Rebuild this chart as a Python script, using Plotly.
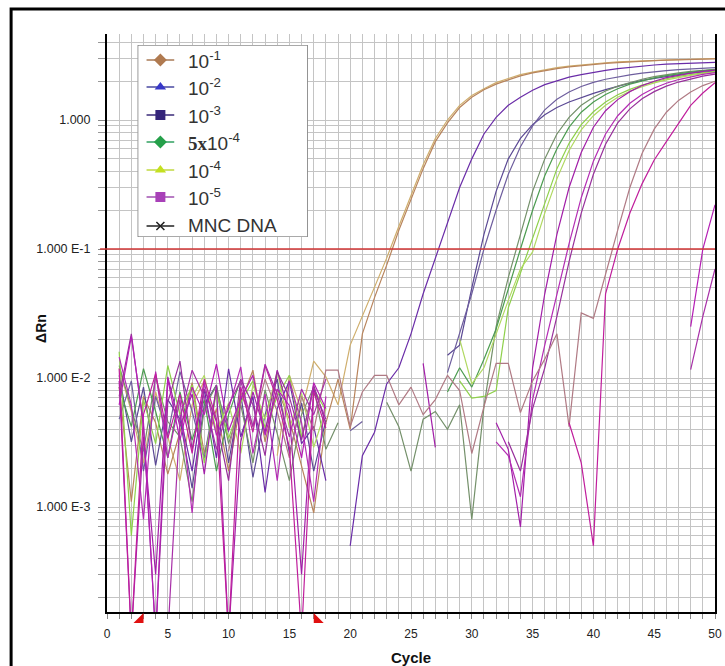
import plotly.graph_objects as go

# ---------------- data ----------------
cycles = list(range(1, 51))

tan_a = [0.012, 0.0055, 0.0022, 0.0078, 0.0035, 0.0016, 0.0062, 0.0095, None, None,
         None, None, None, 0.0025, 0.0105, 0.0055, 0.0135, 0.0102, 0.0062, 0.018,
         0.030, 0.050, 0.085, 0.15, 0.26, 0.45, 0.72, 1.00, 1.30, 1.55,
         1.75, 1.95, 2.10, 2.25, 2.35, 2.45, 2.55, 2.62, 2.68, 2.73,
         2.78, 2.82, 2.85, 2.88, 2.90, 2.92, 2.94, 2.96, 2.98, 3.00]
tan_b = [0.0085, 0.0011, 0.0072, 0.0045, 0.0018, 0.0038, 0.0092, 0.0026, 0.0058, 0.0019,
         0.0065, 0.0115, 0.0032, 0.0082, 0.0048, 0.0021, 0.0009, 0.0045, 0.0098, 0.004,
         0.022, 0.042, 0.075, 0.14, 0.24, 0.42, 0.68, 0.95, 1.25, 1.50,
         1.72, 1.90, 2.05, 2.20, 2.32, 2.42, 2.50, 2.58, 2.64, 2.70,
         2.75, 2.79, 2.83, 2.86, 2.89, 2.91, 2.93, 2.95, 2.97, 2.98]
purple_c = [None, None, None, None, None, 0.0052, 0.0019, 0.0082, 0.0024, 0.0118,
            0.0035, 0.0072, 0.0013, 0.0058, 0.0095, 0.0031, 0.0042, 0.0016, None, 0.0005,
            0.0025, 0.0038, 0.009, 0.012, 0.022, 0.045, 0.085, 0.16, 0.30, 0.50,
            0.78, 1.05, 1.30, 1.50, 1.70, 1.88, 2.02, 2.15, 2.25, 2.35,
            2.43, 2.50, 2.56, 2.62, 2.67, 2.71, 2.74, 2.77, 2.79, 2.80]
slate_d = [0.0105, 0.0032, 0.0085, 0.0021, 0.0068, 0.0048, 0.0014, 0.0062, 0.0088, 0.0022,
           0.0075, 0.0017, 0.0052, 0.0098, 0.0026, 0.0064, 0.0019, 0.0047, None, None,
           None, None, None, None, None, None, None, 0.015, 0.018, 0.050,
           0.13, 0.28, 0.50, 0.72, 0.92, 1.10, 1.25, 1.38, 1.50, 1.61,
           1.72, 1.83, 1.93, 2.03, 2.11, 2.18, 2.25, 2.31, 2.36, 2.40]
slate_e = [0.0048, 0.0095, 0.0019, 0.0072, 0.0036, 0.0112, 0.0055, 0.0024, 0.0082, 0.0038,
           None, None, None, None, None, None, None, None, None, 0.0039,
           0.0046, None, None, None, None, None, None, 0.011, 0.022, 0.045,
           0.10, 0.20, 0.38, 0.62, 0.90, 1.20, 1.45, 1.65, 1.82, 1.96,
           2.07, 2.16, 2.24, 2.31, 2.37, 2.42, 2.46, 2.50, 2.53, 2.55]
grey_f = [0.0125, 0.0058, 0.0027, 0.0102, 0.0046, 0.0035, 0.0011, 0.0058, 0.0088, 0.0031,
          0.0062, 0.0022, 0.0081, 0.0037, 0.0016, 0.0052, 0.0085, 0.0028, 0.0045, None,
          None, None, 0.0065, 0.0042, 0.0019, 0.0048, 0.0055, 0.004, 0.0062, 0.0008,
          0.006, 0.025, 0.06, 0.13, 0.28, 0.50, 0.78, 1.05, 1.30, 1.50,
          1.68, 1.83, 1.96, 2.07, 2.17, 2.25, 2.32, 2.38, 2.43, 2.47]
green_g = [0.0085, 0.0042, 0.0118, 0.0055, 0.0024, 0.0078, 0.0033, 0.0068, 0.0019, 0.0052,
           0.0098, None, None, None, None, None, None, None, None, None,
           None, None, None, None, None, None, None, 0.0078, 0.012, 0.0085,
           0.014, 0.024, 0.05, 0.10, 0.20, 0.37, 0.60, 0.88, 1.15, 1.38,
           1.58, 1.75, 1.90, 2.02, 2.12, 2.21, 2.29, 2.35, 2.41, 2.46]
lime_h = [0.016, 0.0006, 0.0068, 0.0031, 0.0125, 0.0052, 0.0088, 0.0022, 0.0078, 0.0034,
          0.0065, 0.0095, 0.0041, 0.0072, 0.0105, 0.0035, 0.0082, 0.0056, None, None,
          None, None, None, None, None, None, None, None, 0.0095, 0.007,
          0.0072, 0.008, 0.035, 0.065, 0.12, 0.23, 0.42, 0.66, 0.92, 1.16,
          1.38, 1.57, 1.73, 1.87, 1.99, 2.09, 2.18, 2.26, 2.32, 2.38]
lime_i = [None, None, None, None, None, None, 0.0071, 0.0105, 0.0038, 0.0064,
          0.0026, 0.0088, 0.0048, 0.0112, 0.0041, 0.0076, 0.0029, 0.0058, None, None,
          None, None, None, None, None, None, None, None, 0.020, 0.009,
          0.012, 0.022, 0.040, 0.070, 0.095, 0.19, 0.35, 0.58, 0.84, 1.08,
          1.30, 1.50, 1.67, 1.81, 1.94, 2.05, 2.14, 2.22, 2.29, 2.35]
mag_j = [0.0095, 0.0001, 0.0035, 0.0003, 0.0102, 0.0042, 0.0075, 0.0018, 0.0088, 0.0001,
         0.0032, 0.0078, 0.0038, 0.0115, 0.0052, 0.0003, 0.0082, 0.0048, None, None,
         None, None, None, None, None, 0.013, 0.0029, None, None, None,
         None, 0.0045, 0.0028, 0.0007, 0.012, 0.045, 0.13, 0.30, 0.56, 0.88,
         1.18, 1.44, 1.66, 1.85, 2.00, 2.13, 2.23, 2.31, 2.38, 2.44]
mag_k = [0.0145, 0.0062, 0.0008, 0.0112, 0.0024, 0.0068, 0.0009, 0.0092, 0.0036, 0.0058,
         0.0122, 0.0026, 0.0075, 0.0016, 0.0095, 0.0045, 0.0011, 0.0072, None, None,
         None, None, None, None, None, None, None, None, None, None,
         None, 0.0032, 0.0025, 0.0012, 0.0068, 0.018, 0.045, 0.11, 0.25, 0.48,
         0.78, 1.08, 1.35, 1.58, 1.77, 1.93, 2.06, 2.17, 2.26, 2.33]
mag_l = [0.0072, 0.022, 0.0042, 0.0001, 0.0065, 0.0135, 0.0028, 0.0082, 0.0046, 0.0016,
         0.0098, 0.0062, 0.0025, 0.0112, 0.0071, 0.0033, 0.0088, 0.0044, None, None,
         None, None, None, None, None, None, None, None, None, None,
         None, None, 0.0032, 0.0019, 0.0058, 0.012, 0.030, 0.080, 0.19, 0.38,
         0.65, 0.95, 1.22, 1.46, 1.66, 1.83, 1.97, 2.09, 2.19, 2.27]
mauve_m = [None, None, None, None, None, None, None, None, None, 0.0027,
           0.0078, 0.0042, 0.0098, 0.0055, 0.0024, 0.0072, 0.0039, 0.0115, 0.0115, 0.0042,
           0.0078, 0.0105, 0.0105, 0.0062, 0.0085, 0.0052, 0.0068, 0.0105, 0.008, 0.0026,
           0.006, 0.013, 0.013, 0.0054, 0.0095, 0.014, 0.022, 0.0042, 0.032, 0.029,
           0.065, 0.14, 0.30, 0.55, 0.85, 1.15, 1.42, 1.65, 1.85, 2.00]
mag_n = [0.0118, 0.0001, 0.0052, 0.0108, 0.0034, 0.0075, 0.0026, 0.0098, 0.0048, 0.0001,
         0.0085, 0.0038, 0.0125, 0.0068, 0.0029, 0.0001, 0.0078, 0.0041, None, None,
         None, None, None, None, None, None, None, None, None, None,
         None, None, None, None, None, None, None, 0.0045, 0.0022, 0.0005,
         0.045, 0.10, 0.19, 0.32, 0.49, 0.68, 0.95, 1.30, 1.62, 1.95]
mag_o = [0.0062, 0.021, 0.0045, 0.0001, 0.0098, 0.0033, 0.0085, 0.0052, 0.0128, 0.0039,
         0.0069, 0.0105, 0.0036, 0.0082, 0.0061, 0.0024, 0.0092, 0.0058, None, None,
         None, None, None, None, None, None, None, None, None, None,
         None, None, None, None, None, None, None, None, None, None,
         None, None, None, None, None, None, None, 0.025, 0.10, 0.22]
mag_p = [None, None, None, None, 0.0001, 0.0048, 0.0115, 0.0072, 0.0028, 0.0062,
         0.0095, 0.0042, 0.0128, 0.0075, 0.0035, 0.0082, 0.0052, 0.0098, None, None,
         None, None, None, None, None, None, None, None, None, None,
         None, None, None, None, None, None, None, None, None, None,
         None, None, None, None, None, None, None, 0.0116, 0.030, 0.070]

curves = [tan_a, tan_b, purple_c, slate_d, slate_e, grey_f, green_g, lime_h, lime_i,
          mag_j, mag_k, mag_l, mauve_m, mag_n, mag_o, mag_p]

threshold = 0.1
baseline_cycles = [3, 17]

x_tick_values = list(range(0, 51, 5))
y_tick_values = [0.001, 0.01, 0.1, 1.0]
y_tick_labels = ["1.000 E-3", "1.000 E-2", "1.000 E-1", "1.000"]

legend_labels = [
    "10<sup>-1</sup>",
    "10<sup>-2</sup>",
    "10<sup>-3</sup>",
    "<span style=\"font-family:'Liberation Serif',serif;font-weight:bold\">5x</span>10<sup>-4</sup>",
    "10<sup>-4</sup>",
    "10<sup>-5</sup>",
    "MNC DNA",
]

# ---------------- styles ----------------
curve_colors = ["#cfae6c", "#b8845c", "#6a2ca8", "#5a4894", "#6e5e9e", "#74906a",
                "#4c9c50", "#8ed04a", "#b0d860", "#a21ea8", "#b42cb4", "#98309c",
                "#b07a84", "#c01e9c", "#b41eb4", "#a830a8"]
legend_line_colors = ["#a87a56", "#4848a0", "#3a2a78", "#30a060", "#c0d840", "#a050b0", "#202020"]
legend_marker_colors = ["#b07a50", "#3838c8", "#35257a", "#25a04a", "#c4e020", "#a840b8", "#202020"]
legend_symbols = ["diamond", "triangle-up", "square", "diamond", "triangle-up", "square", "x-thin"]

# legend box laid out on its own little pixel-unit axes (page pixels)
LEG_X0, LEG_X1, LEG_Y0, LEG_Y1 = 138, 310, 45, 237
legend_rows = [60, 87, 115, 142, 170, 197, 226]
PLOT_L, PLOT_R, PLOT_T, PLOT_B = 107, 722, 34, 612
PW, PH = PLOT_R - PLOT_L, PLOT_B - PLOT_T

Y_LOG_MIN, Y_LOG_MAX = -3.814, 0.667

fig = go.Figure()

for vals, col in zip(curves, curve_colors):
    fig.add_trace(go.Scatter(x=cycles, y=vals, mode="lines",
                             line=dict(color=col, width=1.2),
                             connectgaps=False, showlegend=False, hoverinfo="skip"))

# legend symbols
for i, lab in enumerate(legend_labels):
    mk = dict(symbol=legend_symbols[i], size=[0, 10, 0], color=legend_marker_colors[i],
              opacity=1)
    if legend_symbols[i] == "x-thin":
        mk["line"] = dict(color=legend_marker_colors[i], width=1.5)
        mk["size"] = [0, 8, 0]
    else:
        mk["line"] = dict(width=0)
    fig.add_trace(go.Scatter(x=[147, 161, 175], y=[legend_rows[i]] * 3,
                             mode="lines+markers", xaxis="x2", yaxis="y2",
                             line=dict(color=legend_line_colors[i], width=1.5),
                             marker=mk, showlegend=False, hoverinfo="skip"))

grid_col = "#c4c4c4"

shapes = [
    dict(type="line", xref="paper", yref="y", x0=-7 / PW, x1=1, y0=threshold, y1=threshold,
         line=dict(color="#d03535", width=1.6), layer="above"),
    dict(type="rect", xref="x2", yref="y2", x0=LEG_X0, x1=LEG_X1, y0=LEG_Y0, y1=LEG_Y1,
         fillcolor="white", line=dict(color="#555555", width=1.2), layer="below"),
    dict(type="rect", xref="paper", yref="paper",
         x0=(10 - PLOT_L) / PW, x1=(740 - PLOT_L) / PW,
         y0=(PLOT_B - 690) / PH, y1=(PLOT_B - 9) / PH,
         fillcolor="rgba(0,0,0,0)", line=dict(color="black", width=3), layer="above"),
]
# baseline start / end markers (red right triangles under the x axis)
tri_paths = ["M -10,-11 L 0,-11 L 0,-1 Z", "M 0,-1 L 0,-11 L 10,-11 Z"]
for cyc, pth in zip(baseline_cycles, tri_paths):
    shapes.append(dict(type="path", xref="x", yref="paper", xsizemode="pixel",
                       ysizemode="pixel", xanchor=cyc, yanchor=0, path=pth,
                       fillcolor="#e01010", line=dict(width=0), layer="above"))

annotations = [
    dict(text="<b>ΔRn</b>", xref="paper", yref="paper", x=(30 - PLOT_L) / PW,
         y=(PLOT_B - 328) / PH, textangle=-90, showarrow=False,
         font=dict(size=14, color="#111111")),
    dict(text="<b>Cycle</b>", xref="paper", yref="paper", x=0.5, yanchor="middle",
         y=(PLOT_B - 657) / PH, showarrow=False, font=dict(size=15, color="#111111")),
]
for i, lab in enumerate(legend_labels):
    annotations.append(dict(text=lab, xref="x2", yref="y2", x=187, y=legend_rows[i],
                            xanchor="left", yanchor="middle", showarrow=False,
                            font=dict(size=19, color="#333333",
                                      family="Liberation Sans, Arial, sans-serif")))

fig.update_layout(
    width=725, height=666,
    margin=dict(l=PLOT_L, r=725 - PLOT_R, t=PLOT_T, b=666 - PLOT_B),
    paper_bgcolor="white", plot_bgcolor="white", showlegend=False,
    font=dict(family="Liberation Sans, Arial, sans-serif", color="#222222"),
    xaxis=dict(range=[0, 50], tickvals=x_tick_values, ticks="outside", ticklen=5,
               tickcolor="#888888", showgrid=True, gridcolor=grid_col, gridwidth=1.3,
               showline=True, linecolor="black", linewidth=2, zeroline=False,
               tickfont=dict(size=12, color="#222222"), ticklabelstandoff=5,
               ticklabeloverflow="allow",
               minor=dict(dtick=1, showgrid=True, gridcolor=grid_col, gridwidth=1.3,
                          ticks="outside", ticklen=5, tickcolor="#888888")),
    yaxis=dict(type="log", range=[Y_LOG_MIN, Y_LOG_MAX], tickvals=y_tick_values,
               ticktext=y_tick_labels, ticks="outside", ticklen=7, tickcolor="#888888",
               showgrid=True, gridcolor=grid_col, gridwidth=1.3,
               showline=True, linecolor="black", linewidth=2, mirror=True, zeroline=False,
               tickfont=dict(size=12.5, color="#222222"), ticklabelstandoff=5,
               ticklabeloverflow="allow",
               minor=dict(dtick="D1", showgrid=True, gridcolor=grid_col, gridwidth=1.3,
                          ticks="outside", ticklen=7, tickcolor="#999999")),
    xaxis2=dict(domain=[(LEG_X0 - PLOT_L) / PW, (LEG_X1 - PLOT_L) / PW],
                range=[LEG_X0, LEG_X1], visible=False, anchor="y2", fixedrange=True),
    yaxis2=dict(domain=[(PLOT_B - LEG_Y1) / PH, (PLOT_B - LEG_Y0) / PH],
                range=[LEG_Y1, LEG_Y0], visible=False, anchor="x2", fixedrange=True),
    shapes=shapes,
    annotations=annotations,
)

fig.write_html("out.html")
